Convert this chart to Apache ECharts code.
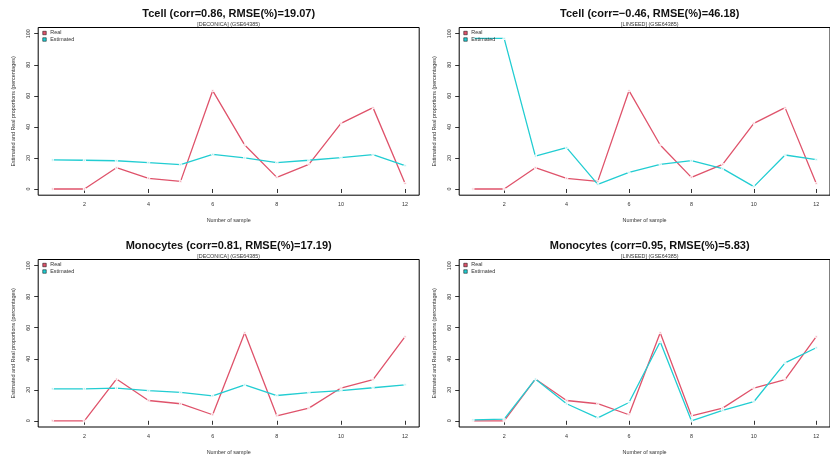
<!DOCTYPE html>
<html>
<head>
<meta charset="utf-8">
<script src="https://cdn.jsdelivr.net/npm/echarts@6/dist/echarts.min.js"></script>
<style>
  html, body { margin: 0; padding: 0; background: #fff; }
  #chart { width: 830px; height: 456px; }
</style>
</head>
<body>
<div id="chart"></div>
<script>
// Sample index shared by every panel
const samples = [1, 2, 3, 4, 5, 6, 7, 8, 9, 10, 11, 12];
const xTicks = [2, 4, 6, 8, 10, 12];
const yTicks = [0, 20, 40, 60, 80, 100];

// Measured (real) proportions, in percent
const tcellReal = [0, 0, 13.7, 6.9, 4.9, 63.3, 28.3, 7.5, 15.9, 42.3, 52.4, 3.6];
const monoReal = [0, 0, 26.9, 13.1, 11.0, 3.9, 56.8, 3.2, 8.2, 21.1, 26.5, 54.2];

// Estimated proportions per method
const tcellDeconica = [18.7, 18.5, 18.2, 17.0, 15.7, 22.3, 20.0, 17.0, 18.5, 20.2, 22.1, 15.0];
const tcellLinseed = [97.0, 97.0, 21.2, 26.6, 3.0, 10.7, 15.9, 18.2, 13.1, 1.5, 21.9, 18.9];
const monoDeconica = [20.6, 20.6, 21.1, 19.4, 18.3, 16.1, 23.2, 16.3, 18.1, 19.4, 21.3, 23.2];
const monoLinseed = [0.6, 1.1, 26.9, 11.0, 1.9, 11.8, 51.0, 0, 6.7, 12.3, 37.4, 47.1];

const panelTitles = [
  'Tcell (corr=0.86, RMSE(%)=19.07)',
  'Tcell (corr=\u22120.46, RMSE(%)=46.18)',
  'Monocytes (corr=0.81, RMSE(%)=17.19)',
  'Monocytes (corr=0.95, RMSE(%)=5.83)'
];
const panelSubtitles = [
  '[DECONICA] (GSE64385)',
  '[LINSEED] (GSE64385)',
  '[DECONICA] (GSE64385)',
  '[LINSEED] (GSE64385)'
];
const panelReal = [tcellReal, tcellReal, monoReal, monoReal];
const panelEstimated = [tcellDeconica, tcellLinseed, monoDeconica, monoLinseed];

const RED = '#DF536B';
const CYAN = '#22CDD2';
const RED_DOT = '#f5b3bf';
const CYAN_DOT = '#a9eef0';
const SMALL = 5.4;
const TXT = '#333';

// Plot-region geometry (R-style: axis range padded by 4%)
const PW = 381, PH = 167.7;
const lefts = [38.2, 459.2, 38.2, 459.2];
const tops = [27.5, 27.5, 259.5, 259.5];

const grids = [], xAxes = [], yAxes = [], series = [], titles = [], legends = [];

for (let i = 0; i < 4; i++) {
  grids.push({
    left: lefts[i], top: tops[i], width: PW, height: PH,
    show: true, borderColor: '#000', borderWidth: 1, backgroundColor: 'transparent',
    containLabel: false
  });
  xAxes.push({
    type: 'value', gridIndex: i, min: 0.56, max: 12.44,
    name: 'Number of sample', nameLocation: 'middle', nameGap: 23,
    nameTextStyle: { fontSize: SMALL, color: TXT, fontFamily: 'Liberation Sans' },
    axisLine: { show: false },
    axisTick: { show: true, length: 4, lineStyle: { color: '#000', width: 0.8 }, customValues: xTicks },
    axisLabel: { fontSize: SMALL, color: TXT, margin: 7, fontFamily: 'Liberation Sans', customValues: xTicks },
    splitLine: { show: false }
  });
  yAxes.push({
    type: 'value', gridIndex: i, min: -4, max: 104,
    name: 'Estimated and Real proportions (percentages)', nameLocation: 'middle', nameGap: 22,
    nameTextStyle: { fontSize: SMALL, color: TXT, fontFamily: 'Liberation Sans' },
    axisLine: { show: false },
    axisTick: { show: true, length: 4, lineStyle: { color: '#000', width: 0.8 }, customValues: yTicks },
    axisLabel: { fontSize: SMALL, color: TXT, margin: 7, rotate: 90, fontFamily: 'Liberation Sans', customValues: yTicks },
    splitLine: { show: false }
  });
  const cx = lefts[i] + PW / 2;
  titles.push({
    text: panelTitles[i], subtext: panelSubtitles[i],
    left: cx, textAlign: 'center', top: tops[i] - 19, itemGap: 2.5, padding: 0,
    textStyle: { fontSize: 11, fontWeight: 'bold', color: '#111', fontFamily: 'Liberation Sans' },
    subtextStyle: { fontSize: SMALL, color: TXT, fontFamily: 'Liberation Sans' }
  });
  legends.push({
    orient: 'vertical', left: lefts[i] + 4.3, top: tops[i] + 3, padding: 0,
    itemWidth: 3.5, itemHeight: 3.5, itemGap: 1.5, icon: 'rect',
    selectedMode: false,
    itemStyle: { borderColor: '#000', borderWidth: 0.5 },
    textStyle: { fontSize: SMALL, color: TXT, fontFamily: 'Liberation Sans', padding: [0, 0, 0, -1] },
    data: [
      { name: 'Real', itemStyle: { color: RED } },
      { name: 'Estimated', itemStyle: { color: CYAN } }
    ]
  });
  const pairs = (arr) => samples.map((s, k) => [s, arr[k]]);
  series.push({
    name: 'Real', type: 'line', xAxisIndex: i, yAxisIndex: i,
    data: pairs(panelReal[i]),
    lineStyle: { color: RED, width: 1.3 },
    symbol: 'circle', symbolSize: 2.4,
    itemStyle: { color: RED_DOT, borderColor: '#fff', borderWidth: 1 },
    color: RED, z: 2
  });
  series.push({
    name: 'Estimated', type: 'line', xAxisIndex: i, yAxisIndex: i,
    data: pairs(panelEstimated[i]),
    lineStyle: { color: CYAN, width: 1.3 },
    symbol: 'circle', symbolSize: 2.4,
    itemStyle: { color: CYAN_DOT, borderColor: '#fff', borderWidth: 1 },
    color: CYAN, z: 3
  });
}

const chart = echarts.init(document.getElementById('chart'), null, { renderer: 'canvas' });
chart.setOption({
  animation: false,
  backgroundColor: '#fff',
  title: titles,
  legend: legends,
  grid: grids,
  xAxis: xAxes,
  yAxis: yAxes,
  series: series
});
</script>
</body>
</html>
